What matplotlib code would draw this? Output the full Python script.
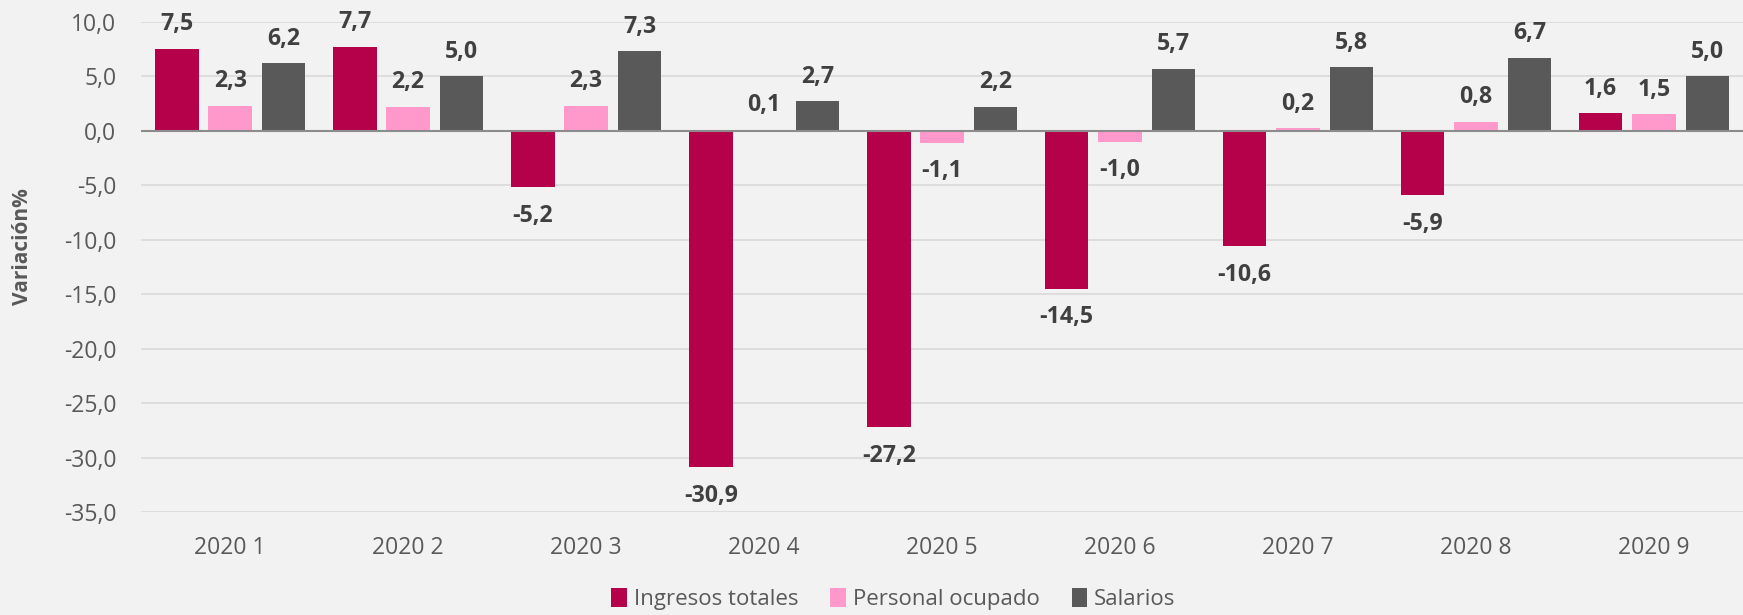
import matplotlib
matplotlib.use("Agg")
import matplotlib.pyplot as plt
import numpy as np

plt.rcParams['font.family'] = ['Open Sans', 'DejaVu Sans']

categories = ["2020 1", "2020 2", "2020 3", "2020 4", "2020 5",
              "2020 6", "2020 7", "2020 8", "2020 9"]
ingresos = [7.5, 7.7, -5.2, -30.9, -27.2, -14.5, -10.6, -5.9, 1.6]
personal = [2.3, 2.2, 2.3, 0.1, -1.1, -1.0, 0.2, 0.8, 1.5]
salarios = [6.2, 5.0, 7.3, 2.7, 2.2, 5.7, 5.8, 6.7, 5.0]

series = [
    ("Ingresos totales", ingresos, "#B5004A"),
    ("Personal ocupado", personal, "#FF99CC"),
    ("Salarios", salarios, "#595959"),
]

bg = "#F2F2F2"
fig = plt.figure(figsize=(17.43, 6.15), dpi=100, facecolor=bg)
ax = fig.add_axes([0.081, 0.1675, 0.919, 0.7972])
ax.set_facecolor(bg)

x = np.arange(len(categories))
width = 0.245
offsets = [-0.3, 0.0, 0.3]

def fmt(v):
    return f"{v:.1f}".replace(".", ",")

handles = []
for (name, vals, color), off in zip(series, offsets):
    bars = ax.bar(x + off, vals, width, color=color, label=name, zorder=3)
    handles.append(bars)
    for xi, v in zip(x + off, vals):
        if v >= 0:
            ax.annotate(fmt(v), (xi, v), xytext=(0, 9), textcoords="offset points",
                        ha="center", va="bottom", fontsize=16.7, fontweight="bold",
                        color="#404040")
        else:
            ax.annotate(fmt(v), (xi, v), xytext=(0, -12), textcoords="offset points",
                        ha="center", va="top", fontsize=16.7, fontweight="bold",
                        color="#404040")

ax.set_ylim(-35, 10)
ax.set_xlim(-0.5, len(categories) - 0.5)
yticks = np.arange(-35, 10.1, 5)
ax.set_yticks(yticks)
ax.set_yticklabels([fmt(v) for v in yticks])
ax.set_xticks(x)
ax.set_xticklabels(categories)
ax.tick_params(axis="both", length=0, labelsize=16.5, labelcolor="#595959")
ax.tick_params(axis="x", pad=17)
ax.tick_params(axis="y", pad=18)

ax.yaxis.grid(True, color="#D9D9D9", linewidth=1.2, zorder=0)
ax.axhline(0, color="#8C8C8C", linewidth=1.5, zorder=4)
for s in ax.spines.values():
    s.set_visible(False)

ax.set_ylabel("Variación%", fontsize=15, fontweight="bold", color="#595959")
ax.yaxis.set_label_coords(-0.0674, 0.5415)

fig.legend(handles=handles, labels=[s[0] for s in series], loc="lower center",
           bbox_to_anchor=(0.5125, -0.025), ncol=3, frameon=False, fontsize=16,
           labelcolor="#595959", handlelength=0.7, handleheight=0.9,
           handletextpad=0.3, columnspacing=1.45)

fig.savefig("out.png", dpi=100, facecolor=bg)
